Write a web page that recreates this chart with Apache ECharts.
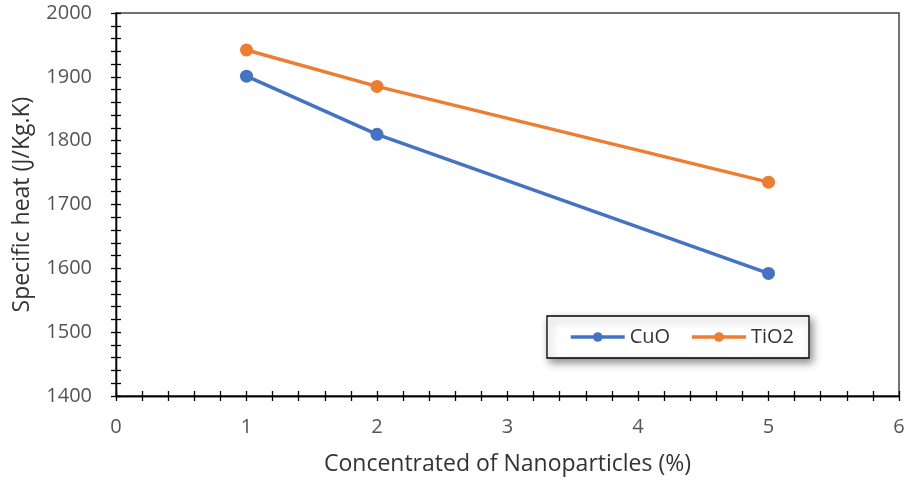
<!DOCTYPE html>
<html>
<head>
<meta charset="utf-8">
<script src="https://cdn.jsdelivr.net/npm/echarts@6/dist/echarts.min.js"></script>
<style>
  html, body { margin: 0; padding: 0; background: #fff; }
  #chart { width: 908px; height: 483px; }
</style>
</head>
<body>
<div id="chart"></div>
<script>
// Concentration of nanoparticles (%) and specific heat (J/Kg.K)
const concentration = [1, 2, 5];
const cuoHeat = [1901, 1810, 1592];
const tio2Heat = [1942, 1885, 1735];
const seriesNames = ['CuO', 'TiO2'];
const xTitle = 'Concentrated of Nanoparticles (%)';
const yTitle = 'Specific heat (J/Kg.K)';

const FONT = '"Open Sans", "Liberation Sans", sans-serif';
const tickStyle = { color: '#000', width: 1.3 };

function pairs(xs, ys) { return xs.map((x, i) => [x, ys[i]]); }

const chart = echarts.init(document.getElementById('chart'), null, { renderer: 'canvas' });

// Shared axis setup; each axis is drawn twice (ticks outside + ticks inside)
// so the tick marks cross the axis line.
const xBase = {
  type: 'value', min: 0, max: 6, interval: 1, position: 'bottom',
  splitLine: { show: false },
  axisLine: { onZero: false, lineStyle: tickStyle },
  minorTick: { show: true, splitNumber: 5, length: 5, lineStyle: tickStyle },
  axisTick: { length: 5, lineStyle: tickStyle }
};
const yBase = {
  type: 'value', min: 1400, max: 2000, interval: 100, position: 'left',
  splitLine: { show: false },
  axisLine: { onZero: false, lineStyle: tickStyle },
  minorTick: { show: true, splitNumber: 5, length: 5, lineStyle: tickStyle },
  axisTick: { length: 5, lineStyle: tickStyle }
};

chart.setOption({
  animation: false,
  backgroundColor: '#fff',
  grid: {
    left: 116, right: 9, top: 13, bottom: 87,
    show: true, borderColor: '#444', borderWidth: 1.5, backgroundColor: 'transparent'
  },
  legend: {
    data: seriesNames,
    left: 547, top: 316,
    padding: [11, 15, 11, 22],
    itemGap: 20, itemWidth: 54, itemHeight: 12,
    lineStyle: { width: 3.5 },
    backgroundColor: '#fff',
    borderColor: '#000', borderWidth: 1.3,
    shadowColor: 'rgba(0,0,0,0.45)', shadowBlur: 8, shadowOffsetX: 3, shadowOffsetY: 4,
    textStyle: { fontFamily: FONT, fontSize: 20, color: '#333' }
  },
  xAxis: [
    {
      ...xBase,
      name: xTitle, nameLocation: 'middle', nameGap: 57,
      nameTextStyle: { fontFamily: FONT, fontSize: 23, color: '#333' },
      axisLabel: { margin: 21, fontFamily: FONT, fontSize: 20, color: '#555' }
    },
    {
      ...xBase,
      axisTick: { ...xBase.axisTick, inside: true },
      axisLabel: { show: false }
    }
  ],
  yAxis: [
    {
      ...yBase,
      name: yTitle, nameLocation: 'middle', nameGap: 82,
      nameTextStyle: { fontFamily: FONT, fontSize: 23, color: '#333' },
      axisLabel: {
        margin: 24, fontFamily: FONT, fontSize: 20, color: '#555',
        formatter: (v) => String(v)
      }
    },
    {
      ...yBase,
      axisTick: { ...yBase.axisTick, inside: true },
      axisLabel: { show: false }
    }
  ],
  series: [
    {
      name: seriesNames[0], type: 'line', data: pairs(concentration, cuoHeat),
      color: '#4472C4', lineStyle: { width: 3.5 }, symbol: 'circle', symbolSize: 13
    },
    {
      name: seriesNames[1], type: 'line', data: pairs(concentration, tio2Heat),
      color: '#ED7D31', lineStyle: { width: 3.5 }, symbol: 'circle', symbolSize: 13
    }
  ]
});
</script>
</body>
</html>
